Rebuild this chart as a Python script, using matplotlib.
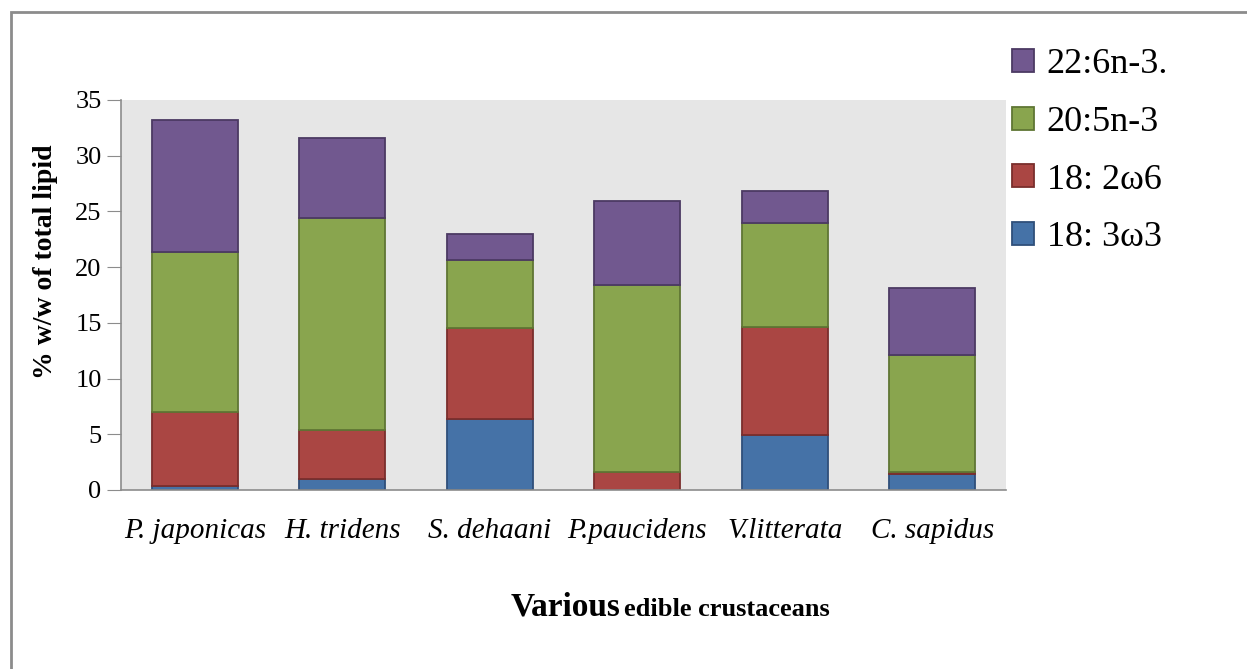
import numpy as np
import matplotlib.pyplot as plt
from matplotlib.patches import Rectangle

species = ["P. japonicas", "H. tridens", "S. dehaani", "P.paucidens", "V.litterata", "C. sapidus"]
ala = [0.4, 1.0, 6.4, 0.0, 4.9, 1.4]      # 18: 3w3
lin = [6.6, 4.4, 8.1, 1.65, 9.7, 0.25]    # 18: 2w6
epa = [14.4, 19.0, 6.1, 16.75, 9.4, 10.45]  # 20:5n-3
dha = [11.8, 7.2, 2.4, 7.5, 2.8, 6.05]    # 22:6n-3.

labels = ["18: 3\u03c93", "18: 2\u03c96", "20:5n-3", "22:6n-3."]
colors = ["#4572A7", "#AA4643", "#89A54E", "#71588F"]
edges = ["#2f4f7a", "#7a2e2c", "#5f7634", "#4c3a63"]

plt.rcParams['font.family'] = ['Liberation Serif', 'DejaVu Serif']

W, H = 1247, 669
fig = plt.figure(figsize=(W / 100, H / 100), dpi=100)
fig.patches.append(Rectangle((11 / W, -0.1), 1.2, (H - 12) / H + 0.1, transform=fig.transFigure,
                             fill=False, edgecolor="#8c8c8c", linewidth=2))

ax = fig.add_axes([121 / W, (H - 490) / H, 885 / W, 390 / H])
ax.set_facecolor("#e6e6e6")

x = np.arange(len(species))
bottom = np.zeros(len(species))
handles = []
for vals, lab, c, e in zip([ala, lin, epa, dha], labels, colors, edges):
    b = ax.bar(x, vals, 0.58, bottom=bottom, color=c, edgecolor=e, linewidth=1.3, label=lab)
    handles.append(b)
    bottom += np.array(vals)

ax.set_xlim(-0.5, len(species) - 0.5)
ax.set_ylim(0, 35)
ax.set_yticks(range(0, 36, 5))
ax.set_xticks(x)
ax.set_xticklabels(species, fontsize=21, style='italic')
ax.tick_params(axis='x', length=0, pad=20)
ax.tick_params(axis='y', direction='out', length=10, color="#8c8c8c", labelsize=19, pad=4)
for s in ['top', 'right']:
    ax.spines[s].set_visible(False)
for s in ['left', 'bottom']:
    ax.spines[s].set_color("#8c8c8c")
    ax.spines[s].set_linewidth(1.2)

fig.text(46 / W, (H - 262) / H, "% w/w of total lipid", fontsize=20, fontweight='bold',
         rotation=90, ha='center', va='center')

leg = fig.legend(handles[::-1], labels[::-1], loc='upper left', bbox_to_anchor=(998 / W, (H - 34) / H),
                 frameon=False, fontsize=26, handlelength=0.6, handleheight=0.6,
                 handletextpad=0.35, labelspacing=0.68, borderaxespad=0)

fig.text(511 / W, (H - 616) / H, "Various", fontsize=24, fontweight='bold', ha='left', va='baseline')
fig.text(624 / W, (H - 616) / H, "edible crustaceans", fontsize=19, fontweight='bold', ha='left', va='baseline')

fig.savefig("out.png", dpi=100)
